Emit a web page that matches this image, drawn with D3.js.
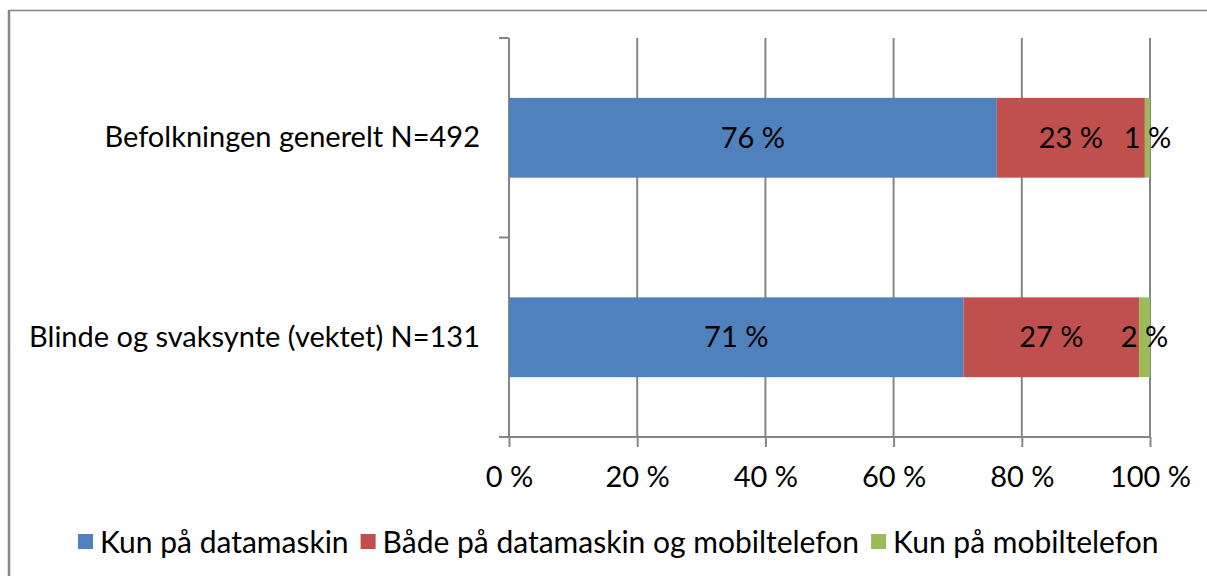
<!DOCTYPE html>
<html>
<head>
<meta charset="utf-8">
<script src="https://cdn.jsdelivr.net/npm/d3@7"></script>
<style>
  body { margin: 0; background: #fff; }
  text { font-family: Lato, "Open Sans", sans-serif; fill: #000; }
</style>
</head>
<body>
<svg id="chart" width="1207" height="576"></svg>
<script>
// data
var categories = ["Befolkningen generelt N=492", "Blinde og svaksynte (vektet) N=131"];
var seriesNames = ["Kun på datamaskin", "Både på datamaskin og mobiltelefon", "Kun på mobiltelefon"];
var kunData = [76.1, 70.9];
var baadeData = [23.1, 27.4];
var mobilData = [0.8, 1.7];
var tickValues = [0, 20, 40, 60, 80, 100];
var colors = ["#4f81bd", "#c0504d", "#9bbb59"];

var fontSize = 29;
var svg = d3.select("#chart");
var margin = {left: 509, top: 38, right: 57, bottom: 139};
var width = 1207 - margin.left - margin.right,
    height = 576 - margin.top - margin.bottom;

// outer chart border
svg.append("rect")
    .attr("x", 9).attr("y", 10.5)
    .attr("width", 1300).attr("height", 700)
    .attr("fill", "none")
    .attr("stroke", "#868686")
    .attr("stroke-width", 1.5);
svg.append("line")
    .attr("x1", 9).attr("x2", 9).attr("y1", 10).attr("y2", 576)
    .attr("stroke", "#868686").attr("stroke-width", 2.5);

var g = svg.append("g")
    .attr("transform", "translate(" + margin.left + "," + margin.top + ")");

var xScale = d3.scaleLinear().domain([0, 100]).range([0, width]);
var yScale = d3.scaleBand().domain(categories).range([0, height]).paddingInner(0.6).paddingOuter(0.3);

var rows = categories.map(function(c, i) {
    return {cat: c, values: [kunData[i], baadeData[i], mobilData[i]]};
});

// gridlines
g.selectAll(".grid")
    .data(tickValues.slice(1))
    .enter().append("line")
    .attr("x1", function(d) { return xScale(d); })
    .attr("x2", function(d) { return xScale(d); })
    .attr("y1", 0).attr("y2", height)
    .attr("stroke", "#868686").attr("stroke-width", 2);

// x axis
var xAxis = d3.axisBottom(xScale)
    .tickValues(tickValues)
    .tickFormat(function(d) { return d + " %"; })
    .tickSizeInner(10).tickSizeOuter(0);
var xg = g.append("g")
    .attr("transform", "translate(0," + height + ")")
    .call(xAxis);
xg.select(".domain").remove();
xg.append("line").attr("x1", -10).attr("x2", width).attr("y1", 0).attr("y2", 0)
    .attr("stroke", "#868686").attr("stroke-width", 2);
xg.selectAll(".tick line").attr("stroke", "#868686").attr("stroke-width", 2);
xg.selectAll(".tick text")
    .attr("y", 50).attr("dy", 0)
    .attr("font-size", fontSize).attr("font-family", "Lato").attr("fill", "#000");

// y axis
var yAxis = d3.axisLeft(yScale).tickSize(0).tickPadding(29);
var yg = g.append("g").call(yAxis);
yg.select(".domain").remove();
yg.append("line").attr("x1", 0).attr("x2", 0).attr("y1", 0).attr("y2", height)
    .attr("stroke", "#868686").attr("stroke-width", 2);
// Excel category dividers
yg.selectAll(".divider")
    .data([0, height / 2])
    .enter().append("line")
    .attr("class", "divider")
    .attr("x1", -10).attr("x2", 0)
    .attr("y1", function(d) { return d; }).attr("y2", function(d) { return d; })
    .attr("stroke", "#868686").attr("stroke-width", 2);
yg.selectAll(".tick text").attr("font-size", fontSize).attr("font-family", "Lato").attr("fill", "#000");

// bars
var barG = g.selectAll(".row")
    .data(rows)
    .enter().append("g")
    .attr("transform", function(d) { return "translate(0," + yScale(d.cat) + ")"; });

barG.each(function(d) {
    var start = 0;
    var segs = d.values.map(function(v, i) {
        var s = {x0: start, x1: start + v, v: v, i: i};
        start += v;
        return s;
    });
    var sel = d3.select(this);
    sel.selectAll("rect")
        .data(segs)
        .enter().append("rect")
        .attr("x", function(s) { return xScale(s.x0); })
        .attr("width", function(s) { return xScale(s.x1) - xScale(s.x0); })
        .attr("y", 0)
        .attr("height", yScale.bandwidth())
        .attr("fill", function(s) { return colors[s.i]; });
    sel.selectAll("text")
        .data(segs)
        .enter().append("text")
        .attr("x", function(s) { return xScale((s.x0 + s.x1) / 2); })
        .attr("y", yScale.bandwidth() / 2)
        .attr("dy", "0.35em")
        .attr("text-anchor", "middle")
        .attr("font-size", fontSize)
        .text(function(s) { return Math.round(s.v) + " %"; });
});

// legend
var legend = svg.append("g").attr("transform", "translate(78,542)");
var lx = 0;
seriesNames.forEach(function(name, i) {
    var item = legend.append("g").attr("transform", "translate(" + lx + ",0)");
    item.append("rect").attr("x", 0).attr("y", -8).attr("width", 15).attr("height", 15)
        .attr("fill", colors[i]);
    var t = item.append("text").attr("x", 22).attr("y", 0).attr("dy", "0.35em")
        .attr("font-size", 30).text(name);
    lx += 22 + t.node().getComputedTextLength() + 12;
});
</script>
</body>
</html>
